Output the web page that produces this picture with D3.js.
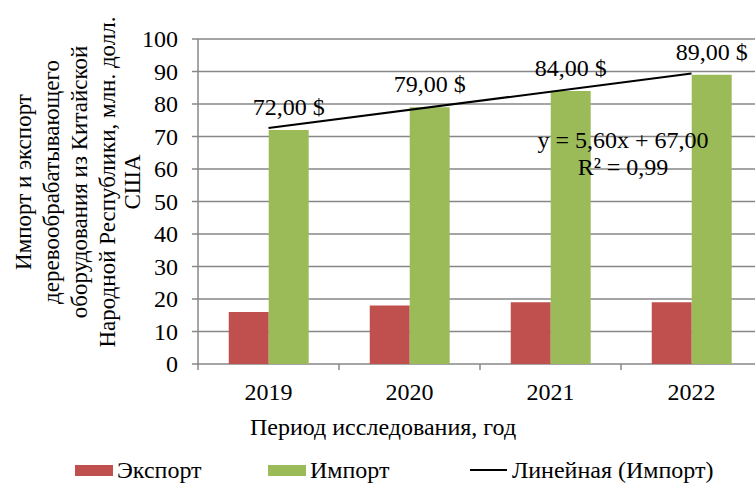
<!DOCTYPE html>
<html>
<head>
<meta charset="utf-8">
<script src="https://cdn.jsdelivr.net/npm/d3@7"></script>
<style>
  body { margin: 0; background: #fff; }
  svg { display: block; font-family: "Liberation Serif", "Times New Roman", serif; }
</style>
</head>
<body>
<div id="chart"></div>
<script>
// Data
const years = ['2019', '2020', '2021', '2022'];
const exportVals = [16, 18, 19, 19];
const importVals = [72, 79, 84, 89];
const yTicks = [0, 10, 20, 30, 40, 50, 60, 70, 80, 90, 100];
const seriesNames = ['Экспорт', 'Импорт'];
const trendName = 'Линейная (Импорт)';
const yTitleLines = ['Импорт и экспорт', 'деревообрабатывающего', 'оборудования из Китайской',
                     'Народной Республики, млн. долл.', 'США'];
const xTitle = 'Период исследования, год';

const width = 755, height = 483;
const colors = { 'Экспорт': '#C0504D', 'Импорт': '#9BBB59' };
const gridColor = '#878787';
const fs = 24;

const svg = d3.select('#chart').append('svg')
  .attr('width', width)
  .attr('height', height);

const x = d3.scaleBand().domain(years).range([198, 762]);
const sub = d3.scaleBand().domain(seriesNames)
  .range([x.bandwidth() * 0.218, x.bandwidth() * 0.785]);
const y = d3.scaleLinear().domain([0, 100]).range([364, 39]);

// gridlines
svg.append('g').selectAll('line')
  .data(yTicks)
  .enter().append('line')
  .attr('x1', 192).attr('x2', width)
  .attr('y1', d => y(d)).attr('y2', d => y(d))
  .attr('stroke', gridColor).attr('stroke-width', 1.5);

// y axis line
svg.append('line')
  .attr('x1', 198).attr('x2', 198)
  .attr('y1', y(100)).attr('y2', y(0))
  .attr('stroke', gridColor).attr('stroke-width', 1.5);

// x tick marks at category boundaries
svg.append('g').selectAll('line')
  .data(years)
  .enter().append('line')
  .attr('x1', d => x(d)).attr('x2', d => x(d))
  .attr('y1', y(0)).attr('y2', y(0) + 6)
  .attr('stroke', gridColor).attr('stroke-width', 1.5);

// y tick labels
svg.append('g').selectAll('text')
  .data(yTicks)
  .enter().append('text')
  .attr('x', 178).attr('y', d => y(d))
  .attr('dy', '0.35em')
  .attr('text-anchor', 'end')
  .attr('font-size', fs)
  .text(d => d);

// bars
const rows = years.map((yr, i) => ({ year: yr, 'Экспорт': exportVals[i], 'Импорт': importVals[i] }));
const groups = svg.append('g').selectAll('g')
  .data(rows)
  .enter().append('g')
  .attr('transform', d => 'translate(' + x(d.year) + ',0)');

groups.selectAll('rect')
  .data(d => seriesNames.map(s => ({ key: s, value: d[s] })))
  .enter().append('rect')
  .attr('x', d => sub(d.key))
  .attr('width', sub.bandwidth())
  .attr('y', d => y(d.value))
  .attr('height', d => y(0) - y(d.value))
  .attr('fill', d => colors[d.key]);

// data labels above import bars
groups.append('text')
  .attr('x', sub('Импорт') + sub.bandwidth() / 2)
  .attr('y', d => y(d['Импорт']) - 15)
  .attr('text-anchor', 'middle')
  .attr('font-size', fs)
  .text(d => d3.format('.2f')(d['Импорт']).replace('.', ',') + ' $');

// linear trend over import, fitted by least squares
const xs = importVals.map((v, i) => i + 1);
const n = xs.length;
const mx = d3.mean(xs), my = d3.mean(importVals);
const slope = d3.sum(xs.map((xv, i) => (xv - mx) * (importVals[i] - my))) / d3.sum(xs.map(xv => (xv - mx) ** 2));
const icpt = my - slope * mx;
const ssTot = d3.sum(importVals.map(v => (v - my) ** 2));
const ssRes = d3.sum(importVals.map((v, i) => (v - (slope * xs[i] + icpt)) ** 2));
const r2 = 1 - ssRes / ssTot;

const catCenter = d => x(d) + x.bandwidth() / 2;
svg.append('line')
  .attr('x1', catCenter(years[0])).attr('y1', y(slope * 1 + icpt))
  .attr('x2', catCenter(years[n - 1])).attr('y2', y(slope * n + icpt))
  .attr('stroke', '#000').attr('stroke-width', 2);

const fmt = v => d3.format('.2f')(v).replace('.', ',');
svg.append('text')
  .attr('x', 623).attr('y', 148)
  .attr('text-anchor', 'middle')
  .attr('font-size', fs)
  .text('y = ' + fmt(slope) + 'x + ' + fmt(icpt));
svg.append('text')
  .attr('x', 623).attr('y', 175)
  .attr('text-anchor', 'middle')
  .attr('font-size', fs)
  .text('R² = ' + fmt(r2));

// x tick labels
svg.append('g').selectAll('text')
  .data(years)
  .enter().append('text')
  .attr('x', d => catCenter(d))
  .attr('y', 400)
  .attr('text-anchor', 'middle')
  .attr('font-size', fs)
  .text(d => d);

// axis titles
svg.append('text')
  .attr('x', 383).attr('y', 435)
  .attr('text-anchor', 'middle')
  .attr('font-size', fs)
  .text(xTitle);

const yBase = [31, 59, 87, 115, 140];
svg.append('g').selectAll('text')
  .data(yTitleLines)
  .enter().append('text')
  .attr('transform', (d, i) => 'translate(' + yBase[i] + ',182) rotate(-90)')
  .attr('text-anchor', 'middle')
  .attr('font-size', 23)
  .text(d => d);

// legend
const legend = svg.append('g');
const legendItems = [
  { name: seriesNames[0], x: 75, type: 'rect' },
  { name: seriesNames[1], x: 268, type: 'rect' },
  { name: trendName, x: 470, type: 'line' }
];
legendItems.forEach(item => {
  if (item.type === 'rect') {
    legend.append('rect')
      .attr('x', item.x).attr('y', 465)
      .attr('width', 38).attr('height', 11)
      .attr('fill', colors[item.name]);
  } else {
    legend.append('line')
      .attr('x1', item.x).attr('x2', item.x + 37)
      .attr('y1', 470).attr('y2', 470)
      .attr('stroke', '#000').attr('stroke-width', 2);
  }
  legend.append('text')
    .attr('x', item.x + 42).attr('y', 478)
    .attr('font-size', fs)
    .text(item.name);
});
</script>
</body>
</html>
